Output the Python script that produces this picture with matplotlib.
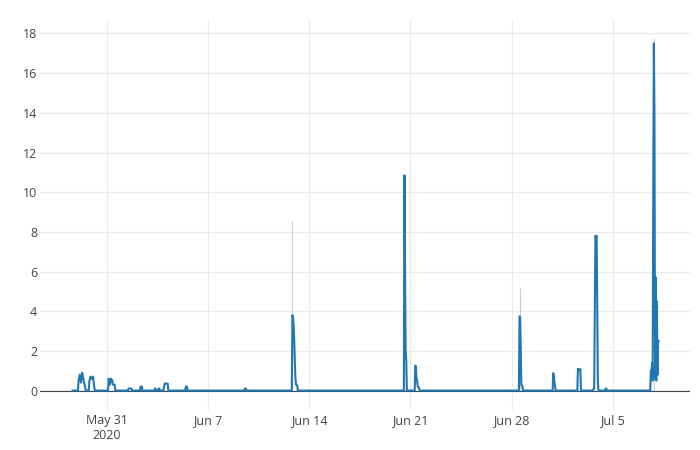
import numpy as np
import pandas as pd
import matplotlib
matplotlib.use("Agg")
import matplotlib.pyplot as plt

# hourly readings, zeros only where the series sits on the baseline
times = [
    "2020-05-28 15:00",
    "2020-05-29 00:00", "2020-05-29 01:00", "2020-05-29 03:00", "2020-05-29 05:00",
    "2020-05-29 07:00", "2020-05-29 09:00", "2020-05-29 11:00", "2020-05-29 13:00",
    "2020-05-29 18:00", "2020-05-29 19:00", "2020-05-29 21:00", "2020-05-29 23:00",
    "2020-05-30 01:00", "2020-05-30 03:00", "2020-05-30 04:00",
    "2020-05-31 02:00", "2020-05-31 03:00", "2020-05-31 05:00", "2020-05-31 07:00",
    "2020-05-31 09:00", "2020-05-31 10:00", "2020-05-31 13:00", "2020-05-31 14:00",
    "2020-06-01 11:00", "2020-06-01 12:00", "2020-06-01 17:00", "2020-06-01 18:00",
    "2020-06-02 07:00", "2020-06-02 08:00", "2020-06-02 10:00", "2020-06-02 11:00",
    "2020-06-03 07:00", "2020-06-03 08:00", "2020-06-03 09:00", "2020-06-03 10:00",
    "2020-06-03 13:00", "2020-06-03 14:00", "2020-06-03 15:00", "2020-06-03 16:00",
    "2020-06-03 22:00", "2020-06-03 23:00", "2020-06-04 00:00", "2020-06-04 05:00", "2020-06-04 06:00",
    "2020-06-05 10:00", "2020-06-05 11:00", "2020-06-05 13:00", "2020-06-05 14:00",
    "2020-06-09 12:00", "2020-06-09 13:00", "2020-06-09 15:00", "2020-06-09 16:00",
    "2020-06-12 19:00", "2020-06-12 20:00", "2020-06-12 21:00", "2020-06-12 22:00",
    "2020-06-12 23:00", "2020-06-13 00:00", "2020-06-13 01:00", "2020-06-13 02:00",
    "2020-06-13 04:00", "2020-06-13 05:00",
    "2020-06-20 13:00", "2020-06-20 14:00", "2020-06-20 15:00", "2020-06-20 16:00",
    "2020-06-20 17:00", "2020-06-20 18:00",
    "2020-06-21 07:00", "2020-06-21 08:00", "2020-06-21 09:00", "2020-06-21 10:00",
    "2020-06-21 11:00", "2020-06-21 12:00", "2020-06-21 14:00", "2020-06-21 15:00",
    "2020-06-28 12:00", "2020-06-28 13:00", "2020-06-28 14:00", "2020-06-28 15:00",
    "2020-06-28 16:00", "2020-06-28 18:00", "2020-06-28 19:00",
    "2020-06-30 20:00", "2020-06-30 21:00", "2020-06-30 22:00", "2020-06-30 23:00",
    "2020-07-01 00:00", "2020-07-01 01:00",
    "2020-07-02 13:00", "2020-07-02 14:00", "2020-07-02 15:00", "2020-07-02 17:00",
    "2020-07-02 18:00", "2020-07-02 19:00",
    "2020-07-03 15:00", "2020-07-03 16:00", "2020-07-03 17:00", "2020-07-03 18:00",
    "2020-07-03 19:00", "2020-07-03 20:00", "2020-07-03 21:00", "2020-07-03 22:00",
    "2020-07-03 23:00", "2020-07-04 00:00",
    "2020-07-04 11:00", "2020-07-04 12:00", "2020-07-04 13:00", "2020-07-04 14:00",
    "2020-07-07 14:00", "2020-07-07 15:00", "2020-07-07 16:00", "2020-07-07 17:00",
    "2020-07-07 18:00", "2020-07-07 19:00", "2020-07-07 20:00", "2020-07-07 21:00",
    "2020-07-07 22:00", "2020-07-07 23:00", "2020-07-08 00:00", "2020-07-08 01:00",
    "2020-07-08 02:00", "2020-07-08 03:00", "2020-07-08 04:00",
]
values = [
    0,
    0, 0.5, 0.8, 0.4,
    0.9, 0.6, 0.3, 0,
    0, 0.5, 0.7, 0.6,
    0.7, 0.2, 0,
    0, 0.6, 0.3, 0.6,
    0.5, 0.3, 0.3, 0,
    0, 0.1, 0.1, 0,
    0, 0.2, 0.2, 0,
    0, 0.1, 0.1, 0,
    0, 0.1, 0.1, 0,
    0, 0.2, 0.35, 0.35, 0,
    0, 0.2, 0.2, 0,
    0, 0.1, 0.1, 0,
    0, 3.8, 3.7, 3.3,
    2.5, 1.5, 0.6, 0.3,
    0.25, 0,
    0, 10.85, 6.0, 2.0,
    1.5, 0,
    0, 1.26, 1.2, 0.6,
    0.5, 0.2, 0.15, 0,
    0, 3.74, 3.7, 2.3,
    0.3, 0.2, 0,
    0, 0.88, 0.7, 0.4,
    0.2, 0,
    0, 1.1, 1.05, 1.05,
    1.08, 0,
    0, 0.1, 0.1, 4.0,
    7.8, 7.75, 7.8, 4.5,
    0.5, 0,
    0, 0.1, 0.1, 0,
    0, 1.0, 0.9, 1.4,
    0.5, 10.0, 17.5, 14.0,
    0.6, 5.7, 0.5, 4.5,
    0.8, 2.5, 2.5,
]

# short-lived peaks that only show as faint hairlines
spike_times = ["2020-06-12 20:00", "2020-06-28 13:00", "2020-07-07 20:00"]
spike_vals = [8.56, 5.19, 17.75]

tick_dates = ["2020-05-31", "2020-06-07", "2020-06-14", "2020-06-21", "2020-06-28", "2020-07-05"]
tick_labels = ["May 31\n2020", "Jun 7", "Jun 14", "Jun 21", "Jun 28", "Jul 5"]

plt.rcParams['font.family'] = ['Open Sans', 'DejaVu Sans']

t = pd.to_datetime(times)
st = pd.to_datetime(spike_times)

fig = plt.figure(figsize=(7, 4.5), dpi=100)
ax = fig.add_axes([40/700, 40/450, 650/700, 390/450])

ax.vlines(st, 0, spike_vals, color='#1f77b4', lw=0.7, alpha=0.35, zorder=2)
ax.plot(t, values, color='#1f77b4', lw=1.5, zorder=3)
ax.axhline(0, color='#444444', lw=0.8, zorder=1)

ax.set_xlim(pd.Timestamp("2020-05-26 09:00"), pd.Timestamp("2020-07-10 08:00"))
ax.set_ylim(-0.98, 18.68)
ax.set_yticks(np.arange(0, 19, 2))
ax.set_xticks(pd.to_datetime(tick_dates))
ax.set_xticklabels(tick_labels)

ax.grid(True, color='#ebebeb', lw=0.8)
ax.set_axisbelow(True)
for s in ax.spines.values():
    s.set_visible(False)
ax.tick_params(length=0, labelsize=9, colors='#444444')
ax.tick_params(axis='y', pad=2)
ax.tick_params(axis='x', pad=3)

fig.savefig("out.png", dpi=100)
